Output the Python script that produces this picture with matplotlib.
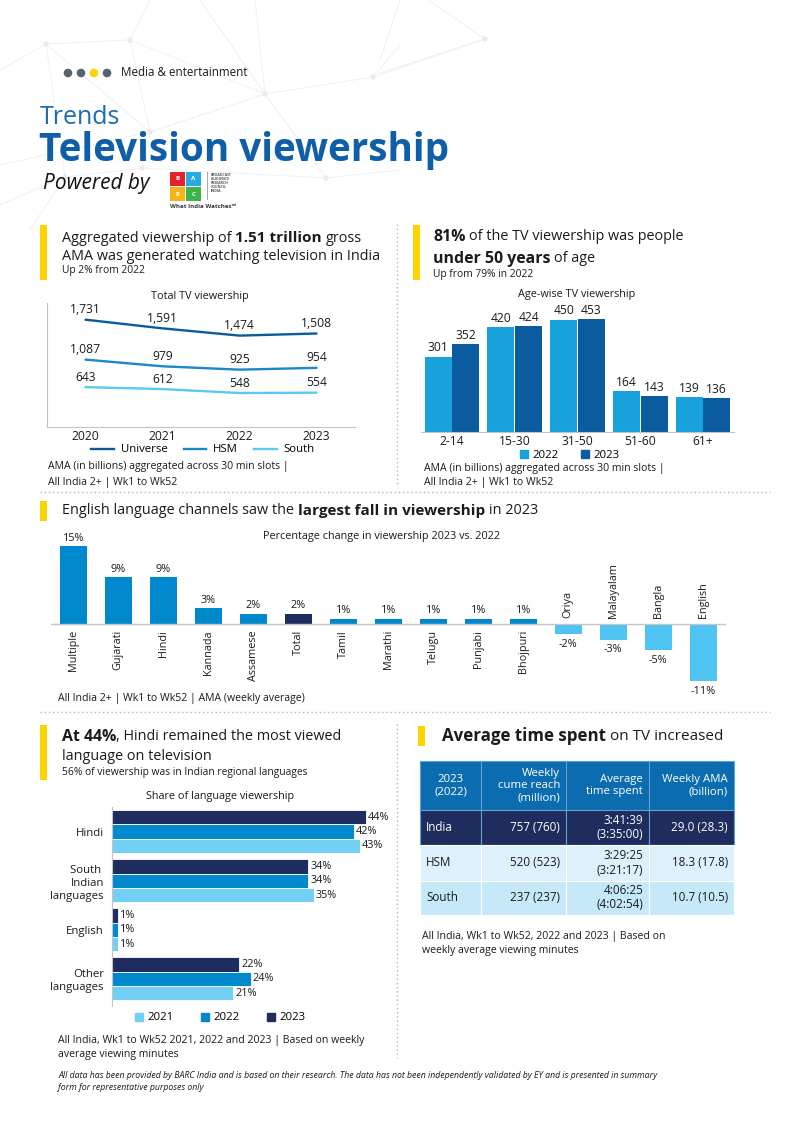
import matplotlib
matplotlib.use("Agg")
import matplotlib.pyplot as plt
from matplotlib.patches import Rectangle, Circle, Patch
from matplotlib.lines import Line2D

plt.rcParams["font.family"] = ["Open Sans", "DejaVu Sans"]

W, H = 800, 1131

# Total TV viewership (AMA, billions)
years = ["2020", "2021", "2022", "2023"]
universe = [1731, 1591, 1474, 1508]
hsm = [1087, 979, 925, 954]
south = [643, 612, 548, 554]

# Age-wise TV viewership
age_groups = ["2-14", "15-30", "31-50", "51-60", "61+"]
age_2022 = [301, 420, 450, 164, 139]
age_2023 = [352, 424, 453, 143, 136]

# Percentage change in viewership 2023 vs 2022
languages = ["Multiple", "Gujarati", "Hindi", "Kannada", "Assamese", "Total", "Tamil",
             "Marathi", "Telugu", "Punjabi", "Bhojpuri", "Oriya", "Malayalam", "Bangla", "English"]
lang_change = [15, 9, 9, 3, 2, 2, 1, 1, 1, 1, 1, -2, -3, -5, -11]

# Share of language viewership (%)
share_langs = ["Hindi", "South \nIndian\nlanguages", "English", "Other\nlanguages"]
share_2021 = [43, 35, 1, 21]
share_2022 = [42, 34, 1, 24]
share_2023 = [44, 34, 1, 22]

# Average time spent table
table_header = ["2023\n(2022)", "Weekly\ncume reach\n(million)", "Average\ntime spent", "Weekly AMA\n(billion)"]
table_regions = ["India", "HSM", "South"]
table_reach = ["757 (760)", "520 (523)", "237 (237)"]
table_time = ["3:41:39\n(3:35:00)", "3:29:25\n(3:21:17)", "4:06:25\n(4:02:54)"]
table_ama = ["29.0 (28.3)", "18.3 (17.8)", "10.7 (10.5)"]

DARK = "#1b1b1f"
TITLE_BLUE = "#0f5ea8"
YELLOW = "#ffd200"
AX_GRAY = "#c4c4c4"

fig = plt.figure(figsize=(W / 100, H / 100), dpi=100)
bg = fig.add_axes([0, 0, 1, 1])
bg.set_xlim(0, W)
bg.set_ylim(H, 0)
bg.axis("off")
renderer = fig.canvas.get_renderer()


def px_axes(x0, y0, x1, y1):
    ax = fig.add_axes([x0 / W, 1 - y1 / H, (x1 - x0) / W, (y1 - y0) / H])
    ax.patch.set_alpha(0)
    return ax


def text_width(s, size, weight):
    t = bg.text(0, 0, s, fontsize=size, fontweight=weight)
    w = t.get_window_extent(renderer).width
    t.remove()
    return w


def rich_line(x, y, parts, color=DARK):
    # draw a line of text made of pieces with different weights
    for s, size, weight in parts:
        sp = text_width("a a", size, weight) - text_width("aa", size, weight)
        if s.startswith(" "):
            x += sp
        core = s.strip(" ")
        bg.text(x, y, core, fontsize=size, fontweight=weight, color=color, va="center", ha="left")
        x += text_width(core, size, weight)
        if s.endswith(" "):
            x += sp


def yellow_bar(x, y0, y1):
    bg.add_patch(Rectangle((x, y0), 7, y1 - y0, color=YELLOW, lw=0))


# faint network decoration in the header
nodes = {"a": (46, 44), "b": (130, 40), "c": (265, 94), "d": (373, 77), "e": (150, 132),
         "f": (142, 168), "g": (326, 178), "h": (65, 177), "i": (485, 39)}
edges = [("a", "b"), ("a", "e"), ("a", "h"), ("b", "c"), ("b", "e"), ("c", "d"), ("c", "g"),
         ("e", "f"), ("f", "g"), ("h", "f"), ("e", "c"), ("d", "i"), ("a", (0, 70)),
         ("b", (150, 0)), ("c", (200, 0)), ("c", (255, 0)), ("d", (400, 45)), ("i", (428, 0)),
         ("i", (380, 73)), ((400, 0), (380, 60)), ("h", (0, 205)), ("e", (0, 165)), ("g", (400, 170)),
         ("h", (30, 230))]
for p, q in edges:
    p = nodes.get(p, p) if isinstance(p, str) else p
    q = nodes.get(q, q) if isinstance(q, str) else q
    bg.plot([p[0], q[0]], [p[1], q[1]], color="#f0f0f0", lw=0.7, zorder=0)
for nx_, ny_ in nodes.values():
    bg.add_patch(Circle((nx_, ny_), 2.0, color="#ebebeb", zorder=0))

# header
for cx, col in zip([68, 81, 94, 107], ["#5a6270", "#5a6270", YELLOW, "#5a6270"]):
    bg.add_patch(Circle((cx, 73), 4.3, color=col, lw=0))
bg.text(121, 73, "Media & entertainment", fontsize=8.4, color=DARK, va="center")
bg.text(40, 117, "Trends", fontsize=18, color="#1a6bb5", va="center")
bg.text(39, 151, "Television viewership", fontsize=27.8, color=TITLE_BLUE, va="center", fontweight="bold")
bg.text(43, 183, "Powered by", fontsize=15, color="#111111", va="center", style="italic")

# BARC logo
for (lx, ly), col, letter in zip([(170, 172), (186, 172), (170, 187), (186, 187)],
                                 ["#e42229", "#2aa9e0", "#f6b417", "#3bb54a"], "BARC"):
    bg.add_patch(Rectangle((lx, ly), 15, 14, color=col, lw=0))
    bg.text(lx + 7.5, ly + 7, letter, fontsize=4.5, color="white", ha="center", va="center", fontweight="bold")
bg.plot([207, 207], [172, 199], color="#9a9a9a", lw=0.6)
bg.text(211, 173, "BROADCAST\nAUDIENCE\nRESEARCH\nCOUNCIL\nINDIA", fontsize=2.5, color="#555555",
        va="top", linespacing=1.0, fontweight="bold")
bg.text(170, 206, "What India Watches\u2122", fontsize=4.4, color="#333333", va="center", fontweight="bold")

# separators
sep = dict(color="#b5b5b5", lw=1, ls=(0, (1, 2)))
bg.plot([397, 397], [224, 486], **sep)
bg.plot([397, 397], [724, 1058], **sep)
bg.plot([40, 770], [492, 492], **sep)
bg.plot([40, 770], [712, 712], **sep)

# ---------------- section 1: total TV viewership ----------------
yellow_bar(40, 225, 280)
rich_line(62, 238, [("Aggregated viewership of ", 10.4, "normal"), ("1.51 trillion", 11.0, "bold"),
                    (" gross", 10.4, "normal")])
rich_line(62, 256, [("AMA was generated watching television in India", 10.4, "normal")])
bg.text(62, 271, "Up 2% from 2022", fontsize=7.4, color=DARK, va="center")
bg.text(200, 296, "Total TV viewership", fontsize=7.8, color=DARK, ha="center", va="center")

ax1 = px_axes(47, 303, 355, 427)
xs = range(len(years))
line_cols = ["#0a5a9c", "#1b88c9", "#5ac8f0"]
for series, col in zip([universe, hsm, south], line_cols):
    ax1.plot(xs, series, color=col, lw=1.7, solid_capstyle="round")
    for x, v in zip(xs, series):
        ax1.annotate(f"{v:,}", (x, v), xytext=(0, 10), textcoords="offset pixels",
                     ha="center", va="center", fontsize=8.7, color=DARK)
ax1.set_xlim(-0.5, 3.5)
ax1.set_ylim(0, 2000)
ax1.set_xticks(list(xs))
ax1.set_xticklabels(years, fontsize=8.7, color=DARK)
ax1.set_yticks([])
ax1.tick_params(axis="x", length=0, pad=2)
for s in ["top", "right"]:
    ax1.spines[s].set_visible(False)
for s in ["left", "bottom"]:
    ax1.spines[s].set_color(AX_GRAY)
fig.legend(handles=[Line2D([], [], color=c, lw=1.7) for c in line_cols],
           labels=["Universe", "HSM", "South"], loc="center", bbox_to_anchor=(203 / W, 1 - 450 / H),
           ncol=3, frameon=False, fontsize=8.2, handlelength=2.0, handletextpad=0.6, columnspacing=1.4)
bg.text(48, 467, "AMA (in billions) aggregated across 30 min slots |", fontsize=7.6, color=DARK, va="center")
bg.text(48, 482, "All India 2+ | Wk1 to Wk52", fontsize=7.6, color=DARK, va="center")

# ---------------- section 2: age-wise viewership ----------------
yellow_bar(413, 225, 280)
rich_line(433, 237, [("81%", 11.4, "bold"), (" of the TV viewership was people", 10.4, "normal")])
rich_line(433, 259, [("under 50 years", 11.4, "bold"), (" of age", 10.4, "normal")])
bg.text(433, 274, "Up from 79% in 2022", fontsize=7.4, color=DARK, va="center")
bg.text(577, 295, "Age-wise TV viewership", fontsize=7.8, color=DARK, ha="center", va="center")

ax2 = px_axes(420.6, 307.3, 734.4, 432)
ax2.set_xlim(-0.5, len(age_groups) - 0.5)
ax2.set_ylim(0, 500)
c22, c23 = "#17a2dc", "#0a5c9e"
gx = list(range(len(age_groups)))
b1 = ax2.bar([x - 0.22 for x in gx], age_2022, width=0.43, color=c22)
b2 = ax2.bar([x + 0.22 for x in gx], age_2023, width=0.43, color=c23)
for bars in (b1, b2):
    for r in bars:
        ax2.annotate(f"{r.get_height():.0f}", (r.get_x() + r.get_width() / 2, r.get_height()),
                     xytext=(0, 9), textcoords="offset pixels", ha="center", va="center",
                     fontsize=8.7, color=DARK)
ax2.set_xticks(gx)
ax2.set_xticklabels(age_groups, fontsize=8.7, color=DARK)
ax2.set_yticks([])
ax2.tick_params(axis="x", length=0, pad=2)
for s in ["top", "right", "left"]:
    ax2.spines[s].set_visible(False)
ax2.spines["bottom"].set_color(AX_GRAY)
fig.legend(handles=[Patch(color=c22), Patch(color=c23)], labels=["2022", "2023"], loc="center",
           bbox_to_anchor=(570 / W, 1 - 455 / H), ncol=2, frameon=False, fontsize=8.2,
           handlelength=0.7, handleheight=0.7, handletextpad=0.4, columnspacing=2.0)
bg.text(424, 468, "AMA (in billions) aggregated across 30 min slots |", fontsize=7.6, color=DARK, va="center")
bg.text(424, 483, "All India 2+ | Wk1 to Wk52", fontsize=7.6, color=DARK, va="center")

# ---------------- section 3: percentage change by language ----------------
yellow_bar(40, 501, 521)
rich_line(62, 511, [("English language channels saw the ", 10.4, "normal"),
                    ("largest fall in viewership", 11.0, "bold"), (" in 2023", 10.4, "normal")])
bg.text(382, 536, "Percentage change in viewership 2023 vs. 2022", fontsize=7.8, color=DARK,
        ha="center", va="center")

ax3 = px_axes(50.8, 535.6, 725.8, 691.6)
ax3.set_xlim(-0.5, len(languages) - 0.5)
ax3.set_ylim(-13, 17)
bar_cols = ["#1f2d5e" if name == "Total" else ("#0088cc" if v > 0 else "#4fc3f1")
            for name, v in zip(languages, lang_change)]
lx = list(range(len(languages)))
ax3.bar(lx, lang_change, width=0.6, color=bar_cols)
ax3.axhline(0, color=AX_GRAY, lw=1)
for x, v, name in zip(lx, lang_change, languages):
    if v > 0:
        ax3.annotate(f"{v}%", (x, v), xytext=(0, 8), textcoords="offset pixels",
                     ha="center", va="center", fontsize=7.8, color=DARK)
        ax3.annotate(name, (x, 0), xytext=(0, -6), textcoords="offset pixels", rotation=90,
                     ha="center", va="top", fontsize=7.8, color=DARK)
    else:
        ax3.annotate(f"{v}%", (x, v), xytext=(0, -10), textcoords="offset pixels",
                     ha="center", va="center", fontsize=7.8, color=DARK)
        ax3.annotate(name, (x, 0), xytext=(0, 6), textcoords="offset pixels", rotation=90,
                     ha="center", va="bottom", fontsize=7.8, color=DARK)
ax3.axis("off")
bg.text(58, 699, "All India 2+ | Wk1 to Wk52 | AMA (weekly average)", fontsize=7.6, color=DARK, va="center")

# ---------------- section 4: share of language viewership ----------------
yellow_bar(40, 725, 780)
rich_line(62, 737, [("At 44%", 11.4, "bold"), (", Hindi remained the most viewed", 10.4, "normal")])
rich_line(62, 756, [("language on television", 10.4, "normal")])
bg.text(62, 772, "56% of viewership was in Indian regional languages", fontsize=7.4, color=DARK, va="center")
bg.text(220, 796, "Share of language viewership", fontsize=7.8, color=DARK, ha="center", va="center")

ax4 = px_axes(112.3, 807, 400.3, 1006)
ax4.set_xlim(0, 50)
ax4.set_ylim(3.55, -0.5)
s21, s22, s23 = "#72d0f5", "#0089cc", "#1f2d5e"
sy = list(range(len(share_langs)))
bh = 0.292
for off, vals, col in [(-bh, share_2023, s23), (0, share_2022, s22), (bh, share_2021, s21)]:
    bars = ax4.barh([y + off for y in sy], vals, height=bh, color=col, edgecolor="white", lw=0.6)
    for r, v in zip(bars, vals):
        ax4.annotate(f"{v}%", (v, r.get_y() + r.get_height() / 2), xytext=(2, 0),
                     textcoords="offset pixels", ha="left", va="center", fontsize=7.8, color=DARK)
ax4.set_yticks(sy)
ax4.set_yticklabels(share_langs, fontsize=8.2, color=DARK, linespacing=1.25)
ax4.set_xticks([])
ax4.tick_params(axis="y", length=0, pad=6)
for s in ["top", "right", "bottom"]:
    ax4.spines[s].set_visible(False)
ax4.spines["left"].set_color(AX_GRAY)
fig.legend(handles=[Patch(color=s21), Patch(color=s22), Patch(color=s23)], labels=["2021", "2022", "2023"],
           loc="center", bbox_to_anchor=(220 / W, 1 - 1018 / H), ncol=3, frameon=False, fontsize=8.2,
           handlelength=0.7, handleheight=0.7, handletextpad=0.4, columnspacing=2.4)
bg.text(58, 1041, "All India, Wk1 to Wk52 2021, 2022 and 2023 | Based on weekly", fontsize=7.6,
        color=DARK, va="center")
bg.text(58, 1055, "average viewing minutes", fontsize=7.6, color=DARK, va="center")

# ---------------- section 5: average time spent table ----------------
yellow_bar(418, 726, 746)
rich_line(442, 736, [("Average time spent", 12.2, "bold"), (" on TV increased", 11.0, "normal")])

col_x = [420, 481, 566, 649, 734]
row_y = [761, 810, 845, 880.5, 915]
row_bg = ["#0b6db0", "#1f2d5e", "#dcf1fb", "#c6e9f9"]
row_fg = ["white", "white", DARK, DARK]
rows = [table_header] + [[r, a, t, m] for r, a, t, m in zip(table_regions, table_reach, table_time, table_ama)]
for ri, row in enumerate(rows):
    y0, y1 = row_y[ri], row_y[ri + 1]
    for ci, cell in enumerate(row):
        x0, x1 = col_x[ci], col_x[ci + 1]
        bg.add_patch(Rectangle((x0, y0), x1 - x0, y1 - y0, facecolor=row_bg[ri],
                               edgecolor="white" if ri > 1 else "#5e9fd0", lw=0.8))
        if ci == 0 and ri == 0:
            bg.text((x0 + x1) / 2, (y0 + y1) / 2, cell, ha="center", va="center", fontsize=8.2,
                    color=row_fg[ri], linespacing=1.2)
        elif ci == 0:
            bg.text(x0 + 6, (y0 + y1) / 2, cell, ha="left", va="center", fontsize=8.4, color=row_fg[ri])
        else:
            bg.text(x1 - 6, (y0 + y1) / 2, cell, ha="right", va="center", fontsize=8.4 if ri else 8.2,
                    color=row_fg[ri], linespacing=1.15, multialignment="right")
bg.text(422, 936, "All India, Wk1 to Wk52, 2022 and 2023 | Based on", fontsize=7.6, color=DARK, va="center")
bg.text(422, 950, "weekly average viewing minutes", fontsize=7.6, color=DARK, va="center")

# footer
bg.text(58, 1076, "All data has been provided by BARC India and is based on their research. The data has not "
        "been independently validated by EY and is presented in summary", fontsize=6.3, style="italic",
        color=DARK, va="center")
bg.text(58, 1088, "form for representative purposes only", fontsize=6.3, style="italic", color=DARK, va="center")

fig.savefig("out.png", dpi=100)
